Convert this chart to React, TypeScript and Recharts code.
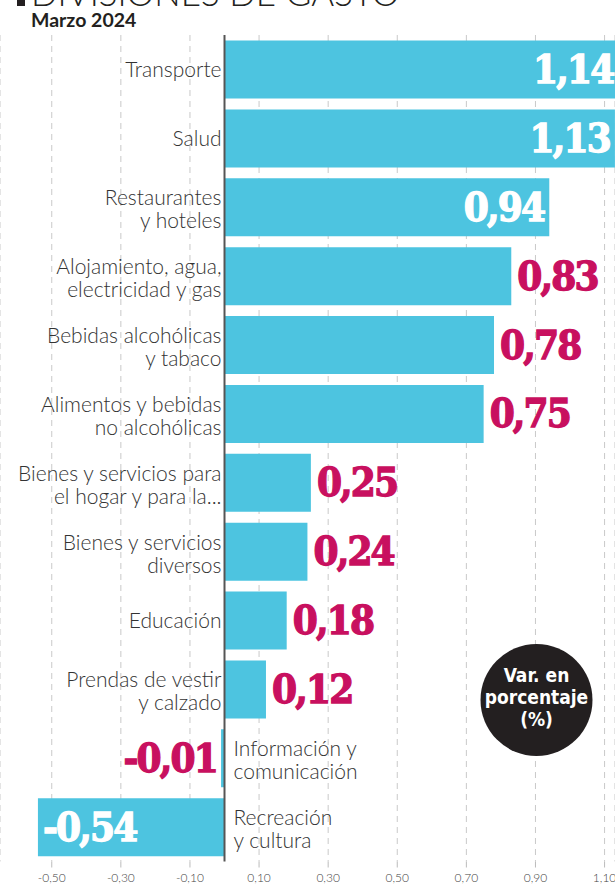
import { BarChart, Bar, XAxis, YAxis, CartesianGrid, ReferenceLine, LabelList } from 'recharts';

const categories = [
  'Transporte',
  'Salud',
  'Restaurantes\ny hoteles',
  'Alojamiento, agua,\nelectricidad y gas',
  'Bebidas alcohólicas\ny tabaco',
  'Alimentos y bebidas\nno alcohólicas',
  'Bienes y servicios para\nel hogar y para la...',
  'Bienes y servicios\ndiversos',
  'Educación',
  'Prendas de vestir\ny calzado',
  'Información y\ncomunicación',
  'Recreación\ny cultura',
];

const values = [1.14, 1.13, 0.94, 0.83, 0.78, 0.75, 0.25, 0.24, 0.18, 0.12, -0.01, -0.54];

const xTicks = [-0.5, -0.3, -0.1, 0.1, 0.3, 0.5, 0.7, 0.9, 1.1];

const data = categories.map((name, i) => ({ name, value: values[i] }));

const BAR_COLOR = '#4dc4e0';
const MAGENTA = '#c8105f';
const DARK = '#231f20';

const fmt = (v: number) => v.toFixed(2).replace('.', ',');

const getBox = (props: any) => {
  const vb = props.viewBox && props.viewBox.height != null ? props.viewBox : props;
  return { x: Number(vb.x), y: Number(vb.y), width: Number(vb.width), height: Number(vb.height) };
};

const ValueLabel = (props: any) => {
  const { x, y, width, height } = getBox(props);
  const v = values[props.index];
  const lo = Math.min(x, x + width);
  const hi = Math.max(x, x + width);
  const inside = v < -0.5 || v > 0.9;
  let tx: number;
  let anchor: 'start' | 'end';
  if (v >= 0) {
    tx = inside ? hi - 5 : hi + 6;
    anchor = inside ? 'end' : 'start';
  } else {
    tx = inside ? lo + 5 : lo - 4;
    anchor = inside ? 'start' : 'end';
  }
  const color = inside ? '#ffffff' : MAGENTA;
  return (
    <text
      x={tx}
      y={y + height / 2 + 13.5}
      textAnchor={anchor}
      fill={color}
      stroke={color}
      strokeWidth={1.3}
      fontFamily="'DejaVu Serif Condensed', 'DejaVu Serif', serif"
      fontWeight={700}
      fontSize={40}
      letterSpacing={-1.8}
      style={{ fontStretch: 'condensed' }}
    >
      {fmt(v)}
    </text>
  );
};

const CategoryLabel = (props: any) => {
  const { x, y, width, height } = getBox(props);
  const v = values[props.index];
  const lines = categories[props.index].split('\n');
  const zero = v >= 0 ? Math.min(x, x + width) : Math.max(x, x + width);
  const cy = y + height / 2;
  const tx = v >= 0 ? zero - 3 : zero + 9;
  const base = lines.length === 1 ? [cy + 7.5] : [cy - 2, cy + 21];
  return (
    <text
      textAnchor={v >= 0 ? 'end' : 'start'}
      fill="#333"
      fontFamily="Lato, 'Open Sans', sans-serif"
      fontWeight={300}
      fontSize={21}
    >
      {lines.map((l, i) => (
        <tspan key={i} x={tx} y={base[i]}>
          {l}
        </tspan>
      ))}
    </text>
  );
};

export default function App() {
  return (
    <div
      style={{
        position: 'absolute',
        left: 0,
        top: 0,
        width: 615,
        height: 886,
        overflow: 'hidden',
        background: '#fff',
      }}
    >
      <BarChart
        width={615}
        height={886}
        data={data}
        layout="vertical"
        margin={{ top: 35, right: 0, bottom: 0, left: 0 }}
        barCategoryGap={5.5}
      >
        <CartesianGrid horizontal={false} stroke="#c9c9c9" strokeDasharray="6 5" />
        <XAxis
          type="number"
          domain={[-0.6498, 1.1302]}
          ticks={xTicks}
          interval={0}
          allowDataOverflow
          height={24.5}
          axisLine={false}
          tickLine={{ stroke: '#bbb' }}
          tickSize={6}
          tickMargin={6}
          tickFormatter={fmt}
          tick={{ fontSize: 12, fill: '#444', fontFamily: 'Lato, sans-serif', fontWeight: 300 }}
        />
        <YAxis type="category" dataKey="name" hide />
        <Bar dataKey="value" fill={BAR_COLOR} isAnimationActive={false}>
          <LabelList dataKey="value" content={ValueLabel} />
          <LabelList dataKey="name" content={CategoryLabel} />
        </Bar>
        <ReferenceLine x={0} stroke="#555" strokeWidth={2} />
      </BarChart>
      <svg
        width={615}
        height={886}
        style={{ position: 'absolute', left: 0, top: 0, pointerEvents: 'none' }}
      >
        <rect x={17} y={-2} width={8} height={8} fill={DARK} />
        <text x={31} y={6} fontFamily="Lato, sans-serif" fontWeight={300} fontSize={35} fill={DARK}>
          DIVISIONES DE GASTO
        </text>
        <text x={31} y={26.7} fontFamily="Lato, sans-serif" fontWeight={700} fontSize={19.5} fill={DARK}>
          Marzo 2024
        </text>
        <circle cx={536.5} cy={700} r={56} fill={DARK} />
        <text
          textAnchor="middle"
          fill="#fff"
          fontFamily="'Liberation Sans Narrow', 'DejaVu Sans Condensed', sans-serif"
          fontWeight={700}
          fontSize={19}
          style={{ fontStretch: 'condensed' }}
        >
          <tspan x={536.5} y={682}>Var. en</tspan>
          <tspan x={536.5} y={704}>porcentaje</tspan>
          <tspan x={536.5} y={726}>(%)</tspan>
        </text>
      </svg>
    </div>
  );
}
